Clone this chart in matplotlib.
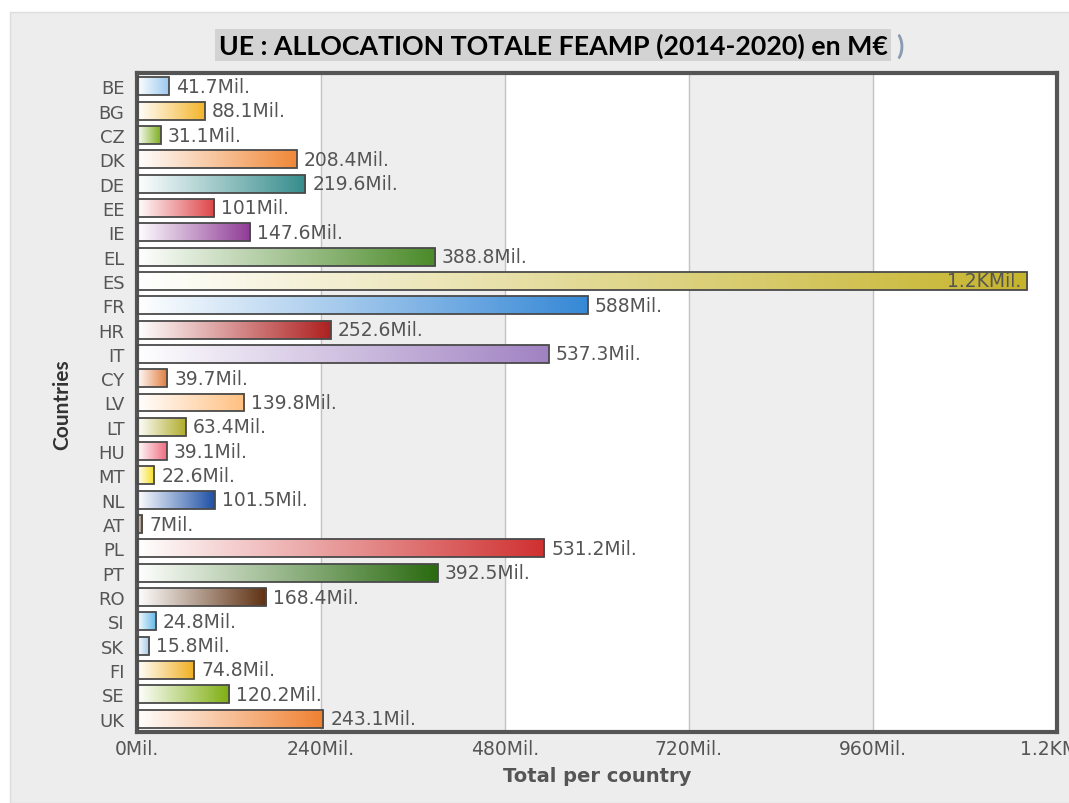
import numpy as np
import matplotlib
matplotlib.use("Agg")
from matplotlib import pyplot as plt
from matplotlib.colors import LinearSegmentedColormap
from matplotlib.patches import Rectangle

plt.rcParams['font.family'] = ['DejaVu Sans']

# data (millions of euros)
countries = ['BE', 'BG', 'CZ', 'DK', 'DE', 'EE', 'IE', 'EL', 'ES', 'FR', 'HR', 'IT', 'CY', 'LV',
             'LT', 'HU', 'MT', 'NL', 'AT', 'PL', 'PT', 'RO', 'SI', 'SK', 'FI', 'SE', 'UK']
values = [41.7, 88.1, 31.1, 208.4, 219.6, 101, 147.6, 388.8, 1161, 588, 252.6, 537.3, 39.7, 139.8,
          63.4, 39.1, 22.6, 101.5, 7, 531.2, 392.5, 168.4, 24.8, 15.8, 74.8, 120.2, 243.1]
labels = ['41.7Mil.', '88.1Mil.', '31.1Mil.', '208.4Mil.', '219.6Mil.', '101Mil.', '147.6Mil.',
          '388.8Mil.', '1.2KMil.', '588Mil.', '252.6Mil.', '537.3Mil.', '39.7Mil.', '139.8Mil.',
          '63.4Mil.', '39.1Mil.', '22.6Mil.', '101.5Mil.', '7Mil.', '531.2Mil.', '392.5Mil.',
          '168.4Mil.', '24.8Mil.', '15.8Mil.', '74.8Mil.', '120.2Mil.', '243.1Mil.']
colors = ['#9cc9ef', '#f4b52a', '#7cae1e', '#f08838', '#358c8c', '#de4448', '#8e3a96', '#4a8a28',
          '#c6b42c', '#3688d6', '#ae2020', '#a082c2', '#e07a3a', '#ffbf80', '#b0ac2c', '#ef6c80',
          '#f6de1a', '#1e50a6', '#806040', '#d03030', '#2a6a10', '#5e3010', '#5cb6e8', '#a0c6e8',
          '#f0ae1e', '#7eae10', '#f08030']
xticks = [0, 240, 480, 720, 960, 1200]
xtick_labels = ['0Mil.', '240Mil.', '480Mil.', '720Mil.', '960Mil.', '1.2KMil.']

fig = plt.figure(figsize=(10.69, 8.04), dpi=100)
fig.patch.set_facecolor('white')
# light grey panel behind the chart
panel = Rectangle((10 / 1069, 0), 1, 1 - 13 / 804, transform=fig.transFigure,
                  facecolor='#ededed', edgecolor='#dddddd', lw=1, zorder=-10)
fig.add_artist(panel)

ax = fig.add_axes([137 / 1069, 1 - 733 / 804, 920 / 1069, 659 / 804])
ax.set_facecolor('white')

# alternating bands and grid
for i in range(1, len(xticks) - 1, 2):
    ax.axvspan(xticks[i], xticks[i + 1], color='#eeeeee', zorder=0)
for x in xticks[1:-1]:
    ax.axvline(x, color='#c4c4c4', lw=1, zorder=1)

h = 0.74
grad = np.linspace(0, 1, 256).reshape(1, -1)
for i, (v, c) in enumerate(zip(values, colors)):
    cmap = LinearSegmentedColormap.from_list('g%d' % i, ['#ffffff', c])
    ax.imshow(grad, cmap=cmap, extent=(0, v, i + h / 2, i - h / 2), aspect='auto',
              interpolation='bicubic', zorder=2)
ax.barh(range(len(values)), values, height=h, fill=False, edgecolor='#4a4a4a', lw=1.3, zorder=3)

for i, (v, lab) in enumerate(zip(values, labels)):
    if v > 1000:
        ax.text(v - 8, i, lab, ha='right', va='center', fontsize=13.5, color='#555555', zorder=4)
    else:
        ax.text(v + 9, i, lab, ha='left', va='center', fontsize=13.5, color='#555555', zorder=4)

ax.set_xlim(0, 1200)
ax.set_ylim(len(values) - 0.45, -0.55)
ax.set_yticks(range(len(countries)))
ax.set_yticklabels(countries, fontsize=13, color='#555555')
ax.set_xticks(xticks)
ax.set_xticklabels(xtick_labels, fontsize=13.5, color='#555555')
ax.tick_params(length=0)
ax.tick_params(axis='y', pad=9)
ax.tick_params(axis='x', pad=5)
for s in ax.spines.values():
    s.set_color('#555555')
    s.set_linewidth(3)

ax.set_xlabel('Total per country', fontsize=14, fontweight='bold', color='#555555', labelpad=6)
fig.text(62 / 1069, 1 - 405 / 804, 'Countries', rotation=90, ha='center', va='center',
         fontsize=15, fontweight='bold', color='#333333', family='Lato')

fig.text(553 / 1069, 1 - 46 / 804, 'UE : ALLOCATION TOTALE FEAMP (2014-2020) en M€',
         ha='center', va='center', fontsize=19.3, fontweight='bold', family='Lato', color='black',
         bbox=dict(boxstyle='square,pad=0.12', facecolor='#d3d3d3', edgecolor='none'))
fig.text(900 / 1069, 1 - 46 / 804, ')', ha='center', va='center', fontsize=19,
         fontweight='bold', color='#8a9ab2', family='Lato')

plt.savefig('out.png', dpi=100)
